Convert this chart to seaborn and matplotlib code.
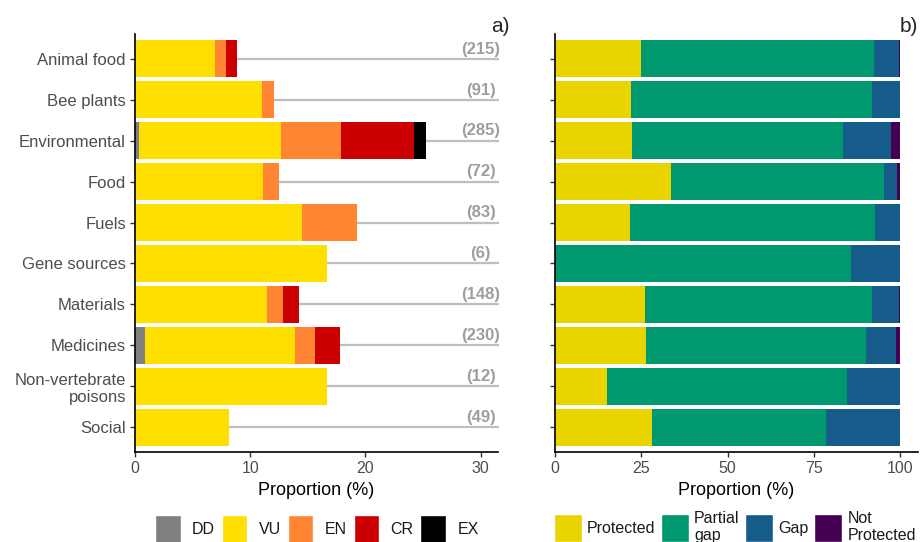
import numpy as np
import pandas as pd
import matplotlib
matplotlib.use("Agg")
import matplotlib.pyplot as plt
from matplotlib.patches import Patch
import seaborn as sns

# Use categories
categories = ["Animal food", "Bee plants", "Environmental", "Food", "Fuels",
              "Gene sources", "Materials", "Medicines",
              "Non-vertebrate\npoisons", "Social"]
n_species = [215, 91, 285, 72, 83, 6, 148, 230, 12, 49]

# a) share of species (%) per threat category
dd = [0.00, 0.00, 0.35, 0.00, 0.00, 0.00, 0.00, 0.87, 0.00, 0.00]
vu = [6.98, 10.99, 12.28, 11.11, 14.46, 16.67, 11.49, 13.04, 16.67, 8.16]
en = [0.93, 1.10, 5.26, 1.39, 4.82, 0.00, 1.35, 1.74, 0.00, 0.00]
cr = [0.93, 0.00, 6.32, 0.00, 0.00, 0.00, 1.35, 2.17, 0.00, 0.00]
ex = [0.00, 0.00, 1.05, 0.00, 0.00, 0.00, 0.00, 0.00, 0.00, 0.00]
threat_labels = ["DD", "VU", "EN", "CR", "EX"]
threat_colors = ["#808080", "#FFDF00", "#FF8533", "#CC0000", "#000000"]

# b) protection status (%)
protected = [24.9, 22.1, 22.2, 33.6, 21.8, 0.0, 26.1, 26.4, 15.1, 28.2]
partial_gap = [67.5, 69.6, 61.1, 61.6, 70.9, 85.7, 65.7, 63.7, 69.5, 50.2]
gap = [7.3, 8.3, 14.0, 3.8, 7.3, 14.3, 7.9, 8.6, 15.4, 21.6]
not_protected = [0.3, 0.0, 2.7, 1.0, 0.0, 0.0, 0.3, 1.3, 0.0, 0.0]
protection_labels = ["Protected", "Partial\ngap", "Gap", "Not\nProtected"]
protection_colors = ["#EAD400", "#00996F", "#165C8B", "#440154"]

sns.set_style("ticks")
plt.rcParams["font.family"] = ["Liberation Sans", "DejaVu Sans"]

threat_df = pd.DataFrame(dict(zip(threat_labels, [dd, vu, en, cr, ex])), index=categories)
prot_df = pd.DataFrame(dict(zip(protection_labels,
                                [protected, partial_gap, gap, not_protected])),
                       index=categories)

W, H = 922, 542
fig = plt.figure(figsize=(W / 100, H / 100), dpi=100)
ax_a = fig.add_axes([135 / W, 1 - 452 / H, 363 / W, 418 / H])
ax_b = fig.add_axes([555 / W, 1 - 452 / H, 363 / W, 418 / H])


def stacked(ax, df, colors):
    cum = df.cumsum(axis=1)
    # draw the longest cumulative segment first so shorter ones sit on top
    for col, color in reversed(list(zip(df.columns, colors))):
        sns.barplot(x=cum[col].values, y=list(df.index), order=list(df.index),
                    orient="h", color=color, width=0.9, saturation=1,
                    errorbar=None, linewidth=0, ax=ax, zorder=2)


stacked(ax_a, threat_df, threat_colors)
stacked(ax_b, prot_df, protection_colors)

# reference lines and species counts in panel a
for i, n in enumerate(n_species):
    ax_a.plot([0, 31.6], [i, i], color="#BEBEBE", lw=1.6, zorder=1,
              solid_capstyle="butt", clip_on=False)
    ax_a.text(30, i - 0.05, f"({n})", ha="center", va="bottom",
              fontsize=12, fontweight="bold", color="#9E9E9E", zorder=3)

ax_a.set_xlim(0, 31.5)
ax_a.set_xticks([0, 10, 20, 30])
ax_b.set_xlim(0, 105.1)
ax_b.set_xticks([0, 25, 50, 75, 100])
ax_b.set_yticklabels([])

for ax in (ax_a, ax_b):
    ax.set_ylim(9.6, -0.6)
    ax.set_xlabel("Proportion (%)", fontsize=13, color="black", labelpad=4)
    ax.set_ylabel("")
    sns.despine(ax=ax)
    for side in ("left", "bottom"):
        ax.spines[side].set_linewidth(1.2)
        ax.spines[side].set_color("black")
    ax.tick_params(axis="both", length=3.5, width=1.0, color="#333333",
                   labelcolor="#4D4D4D", pad=3)
    ax.tick_params(axis="y", labelsize=12)
    ax.tick_params(axis="x", labelsize=11.5)

fig.text(510 / W, 1 - 26 / H, "a)", ha="right", va="center", fontsize=15)
fig.text(918 / W, 1 - 26 / H, "b)", ha="right", va="center", fontsize=15)

leg_kw = dict(loc="upper left", frameon=False, borderpad=0, borderaxespad=0,
              handlelength=1.6, handleheight=2.3, fontsize=11.5,
              labelcolor="#1A1A1A")
fig.legend(handles=[Patch(facecolor=c, label=l) for l, c in zip(threat_labels, threat_colors)],
           bbox_to_anchor=(155 / W, 1 - 515 / H), ncol=5, columnspacing=0.42,
           handletextpad=0.72, **leg_kw)
fig.legend(handles=[Patch(facecolor=c, label=l) for l, c in zip(protection_labels, protection_colors)],
           bbox_to_anchor=(554 / W, 1 - 511 / H), ncol=4, columnspacing=0.35,
           handletextpad=0.32, **{**leg_kw, "handlelength": 1.75})

fig.savefig("out.png", dpi=100)
